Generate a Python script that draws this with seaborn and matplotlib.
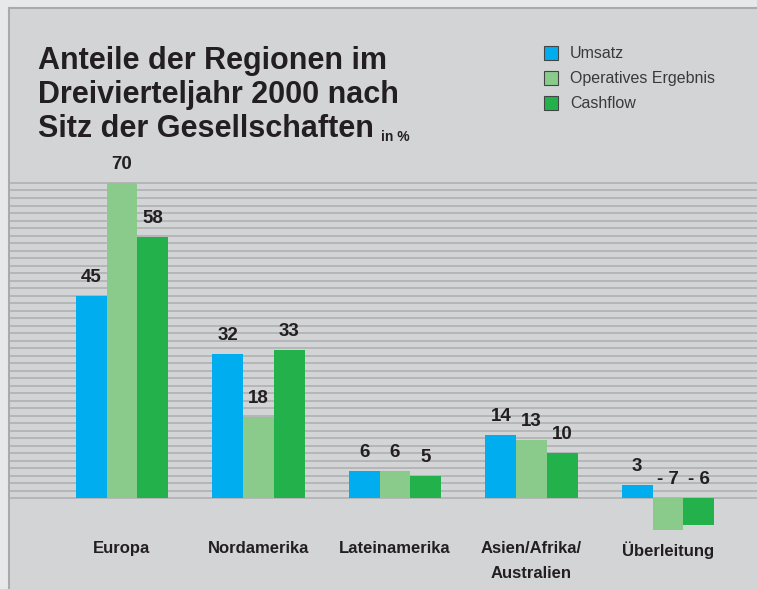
import numpy as np
import pandas as pd
import matplotlib.pyplot as plt
import seaborn as sns

# data
regionen = ["Europa", "Nordamerika", "Lateinamerika", "Asien/Afrika/\nAustralien", "Überleitung"]
umsatz = [45, 32, 6, 14, 3]
operatives = [70, 18, 6, 13, -7]
cashflow = [58, 33, 5, 10, -6]
serien = ["Umsatz", "Operatives Ergebnis", "Cashflow"]
titel = ["Anteile der Regionen im", "Dreivierteljahr 2000 nach", "Sitz der Gesellschaften"]

farben = ["#00AEEF", "#8ACB8B", "#23B14C"]
panel = "#D3D4D6"
aussen = "#E7E8EA"
linie = "#B2B3B5"
text_dunkel = "#231F20"

df = pd.DataFrame({
    "Region": regionen * 3,
    "Serie": [s for s in serien for _ in regionen],
    "Wert": umsatz + operatives + cashflow,
})

sns.set_style("white")
plt.rcParams["font.family"] = ["Liberation Sans", "DejaVu Sans"]

W, H = 757, 589
fig = plt.figure(figsize=(W / 100, H / 100), dpi=100, facecolor=aussen)
ax = fig.add_axes([9 / W, 0, 1 - 9 / W, 1 - 8 / H])
ax.set_facecolor(panel)

# horizontal hatching lines between 0 and 70
for y in np.linspace(0, 70, 43):
    ax.axhline(y, color=linie, lw=1.3, zorder=0)

sns.barplot(data=df, x="Region", y="Wert", hue="Serie", hue_order=serien,
            palette=farben, width=0.675, saturation=1, ax=ax, legend=False,
            zorder=2, linewidth=0)

# px mapping: zero at 498, 4.5 px per unit, centers 122 + 136.5*i
px = 4.5
ax.set_ylim(-(H - 498) / px, 70 + (183 - 8) / px)
ax.set_xlim(-(122 - 9) / 136.5, 4 + (W - 668) / 136.5)

# value labels
for cont, werte in zip(ax.containers, [umsatz, operatives, cashflow]):
    for bar, v in zip(cont, werte):
        x = bar.get_x() + bar.get_width() / 2
        lab = str(v) if v >= 0 else "- " + str(-v)
        ax.annotate(lab, (x, max(v, 0)), xytext=(0, 7), textcoords="offset points",
                    ha="center", va="bottom", fontsize=13.5, fontweight="bold",
                    color=text_dunkel)

# category labels
for i, r in enumerate(regionen):
    ax.text(i, -(541 - 498) / px, r, ha="center", va="top", fontsize=12,
            fontweight="bold", color=text_dunkel, linespacing=1.8)

ax.set_xlabel("")
ax.set_ylabel("")
ax.set_xticks([])
ax.set_yticks([])
for s in ["right", "bottom"]:
    ax.spines[s].set_visible(False)
for s in ["left", "top"]:
    ax.spines[s].set_color("#A9AAAC")
    ax.spines[s].set_linewidth(1.5)

# title, one text per line
zeilen = []
for k, t in enumerate(titel):
    zeilen.append(fig.text(38 / W, 1 - (69 + 34 * k) / H, t, ha="left", va="baseline",
                           fontsize=22, fontweight="bold", color=text_dunkel))
fig.canvas.draw()
ax.annotate("in %", xy=(1, 0), xycoords=zeilen[-1], xytext=(5, 2),
            textcoords="offset points", ha="left", va="baseline", fontsize=10,
            fontweight="bold", color=text_dunkel, annotation_clip=False)

# legend
for k, (s, c) in enumerate(zip(serien, farben)):
    yk = 53 + 25 * k
    fig.patches.append(plt.Rectangle((544 / W, 1 - (yk + 7) / H), 14 / W, 14 / H,
                                     transform=fig.transFigure, facecolor=c,
                                     edgecolor="#444444", lw=0.8))
    fig.text(570 / W, 1 - yk / H, s, ha="left", va="center", fontsize=11.5,
             color="#3A3A3A")

fig.savefig("out.png", dpi=100, facecolor=aussen)
